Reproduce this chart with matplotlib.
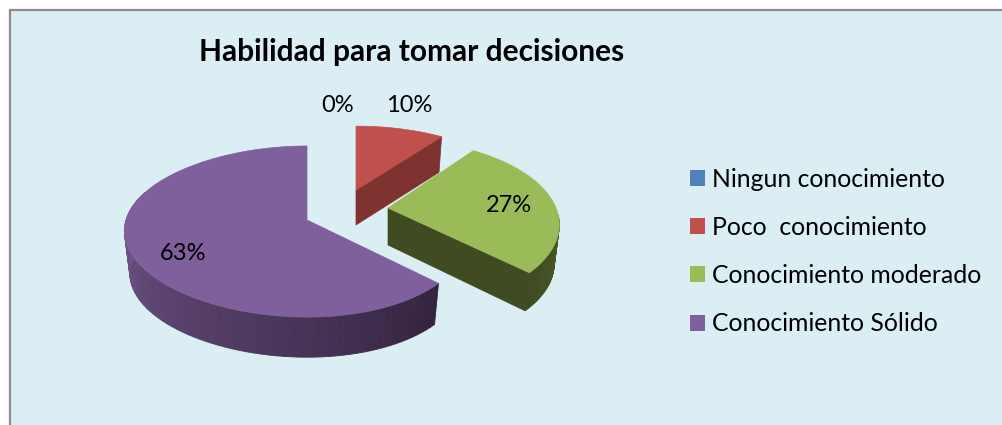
'''
Exploded 3D style pie chart drawn with matplotlib polygons
'''
import numpy as np
import matplotlib
matplotlib.use('Agg')
import matplotlib.pyplot as plt
from matplotlib.patches import Polygon, Rectangle, Patch

plt.rcParams['font.family'] = ['Lato', 'DejaVu Sans']

title = 'Habilidad para tomar decisiones'
categories = ['Ningun conocimiento', 'Poco  conocimiento',
              'Conocimiento moderado', 'Conocimiento Sólido']
values = [0, 10, 27, 63]
colors = ['#4F81BD', '#C0504D', '#9BBB59', '#7F609C']

BG = '#DBEEF4'

# slice geometry in pixels: apex, radii, perspective factor and wall height
red_geo = dict(cx=356, cy=190, rx=168, rx_skew=0, ry=76, k=0.19, depth=34)
green_geo = dict(cx=388, cy=208, rx=168, rx_skew=0, ry=82, k=0.195, depth=40)
purple_geo = dict(cx=307, cy=220, rx=171, rx_skew=10, ry=84, k=0.135, depth=43)


def top_point(theta, geo):
    '''Point on the upper rim, theta is in degrees clockwise from 12 o'clock.'''
    u = np.sin(np.radians(theta))
    v = np.cos(np.radians(theta))
    w = 1 + geo['k'] * v
    x = geo['cx'] + (geo['rx'] - geo['rx_skew'] * u) * u / w
    y = geo['cy'] - geo['ry'] * v / w
    return np.column_stack([x, y])


def low_point(theta, geo, scale=0.97):
    '''Same point on the lower rim, a bit smaller and moved down.'''
    pts = top_point(theta, geo)
    apex = np.array([geo['cx'], geo['cy']])
    return apex + (pts - apex) * scale + [0, geo['depth']]


def draw_top(ax, start, stop, color, geo):
    rim = top_point(np.linspace(start, stop, 120), geo)
    ax.add_patch(Polygon(np.vstack([[geo['cx'], geo['cy']], rim]),
                         closed=True, fc=color, ec=color, lw=0.5, zorder=5))


def draw_cut(ax, theta, color, geo, depth):
    # flat wall along the radial edge of a slice
    th = np.array([theta])
    end = top_point(th, geo)[0]
    end_low = low_point(th, geo)[0]
    apex = np.array([geo['cx'], geo['cy']])
    pts = [apex, end, end_low, apex + [0, depth]]
    ax.add_patch(Polygon(pts, closed=True, fc=color, ec=color, lw=0.5, zorder=3))


def draw_rim(ax, start, stop, color_a, color_b, geo, n=70):
    # outer wall, cut into short pieces for the shading
    thetas = np.linspace(start, stop, n + 1)
    top = top_point(thetas, geo)
    low = low_point(thetas, geo)
    rgb_a = np.array(matplotlib.colors.to_rgb(color_a))
    rgb_b = np.array(matplotlib.colors.to_rgb(color_b))
    for i in range(n):
        c = rgb_a + (rgb_b - rgb_a) * i / (n - 1)
        pts = [top[i], top[i + 1], low[i + 1], low[i]]
        ax.add_patch(Polygon(pts, closed=True, fc=c, ec=c, lw=0.6, zorder=2))


fig = plt.figure(figsize=(10.02, 4.25), dpi=100)
ax = fig.add_axes([0, 0, 1, 1])
ax.set_xlim(0, 1002)
ax.set_ylim(425, 0)
ax.axis('off')

ax.add_patch(Rectangle((10, 10), 1000, 430, fc=BG, ec='#8C8C8C', lw=1.6, zorder=1))

# slice angles come from the values, clockwise from the top
edges = np.cumsum([0] + values) * 3.6
red_start, red_stop = edges[1], edges[2]
green_start, green_stop = edges[2], edges[3]
purple_start, purple_stop = edges[3], edges[4]

# walls first, the upper faces go over them
draw_rim(ax, purple_start, 290, '#33233F', '#75598F', purple_geo)
draw_rim(ax, 95, green_stop, '#4C5C28', '#3F4A22', green_geo, n=30)
draw_cut(ax, green_stop, '#404B22', green_geo, 37)
draw_cut(ax, red_stop, '#7F3331', red_geo, 35)

draw_top(ax, red_start, red_stop, colors[1], red_geo)
draw_top(ax, green_start, green_stop, colors[2], green_geo)
draw_top(ax, purple_start, purple_stop, colors[3], purple_geo)

ax.text(412, 52, title, fontsize=21.5, fontweight='bold', color='black',
        ha='center', va='center', zorder=6)

label_pos = [(338, 105), (409, 105), (509, 205), (183, 254)]
for val, (lx, ly) in zip(values, label_pos):
    ax.text(lx, ly, f'{val}%', fontsize=17, color='black',
            ha='center', va='center', zorder=6)

handles = [Patch(fc=c, ec='none') for c in colors]
ax.legend(handles, categories, loc='center left', bbox_to_anchor=(690, 251.5),
          bbox_transform=ax.transData, frameon=False, fontsize=17.8,
          handlelength=0.607, handleheight=0.607, handletextpad=0.28,
          labelspacing=1.02, borderpad=0, borderaxespad=0)

fig.savefig('out.png', dpi=100)
